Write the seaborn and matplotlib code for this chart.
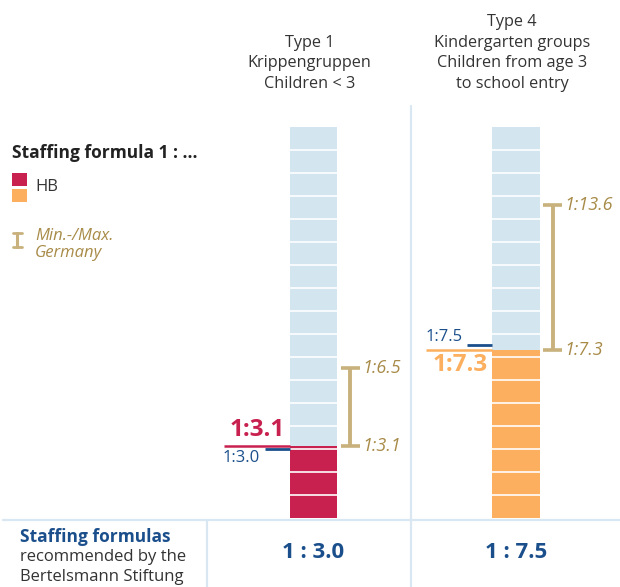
import matplotlib
matplotlib.use("Agg")
import matplotlib.pyplot as plt
import pandas as pd
import seaborn as sns

# ---- data -------------------------------------------------------------
groups = ["Type 1", "Type 4"]
headers = [
    ["Type 1", "Krippengruppen", "Children < 3"],
    ["Type 4", "Kindergarten groups", "Children from age 3", "to school entry"],
]
hb_ratio = [3.1, 7.3]           # HB staffing formula 1 : x
germany_min = [3.1, 7.3]        # lowest staffing formula in Germany
germany_max = [6.5, 13.6]       # highest staffing formula in Germany
recommended = [3.0, 7.5]        # Bertelsmann Stiftung recommendation
scale_max = [17, 17]            # height of the child scale behind each bar

# ---- style ------------------------------------------------------------
LIGHT_BLUE = "#d3e5ef"
RED = "#c8214f"
ORANGE = "#fbaf5f"
GOLD = "#c8b17c"
GOLD_TEXT = "#a88b48"
DARK_BLUE = "#1b4f8c"
TEXT = "#333333"
RULE = "#d8e7f1"
bar_colors = [RED, ORANGE]

sns.set_theme(style="white")
plt.rcParams["font.family"] = ["Open Sans", "DejaVu Sans"]

W, H = 620, 587
fig = plt.figure(figsize=(W / 100, H / 100), dpi=100)
ax = fig.add_axes([0, 0, 1, 1])

# pixel geometry of the plotting grid
PX_X = 202.5          # pixels between the two bar centres
PX_Y = 23.0           # pixels per child
X0 = 313.5            # pixel x of the first bar centre
Y0 = 517.5            # pixel y (from top) of the bar base
BAR_W = 47.5 / PX_X


def fx(px):
    return px / W


def fy(py):
    return 1 - py / H


df = pd.DataFrame({"group": groups, "hb": hb_ratio, "scale": scale_max})

# background scale and HB bars
sns.barplot(df, x="group", y="scale", color=LIGHT_BLUE, width=BAR_W,
            linewidth=0, saturation=1, errorbar=None, ax=ax)
sns.barplot(df, x="group", y="hb", hue="group", palette=bar_colors,
            width=BAR_W, linewidth=0, saturation=1, errorbar=None,
            legend=False, ax=ax)

ax.set_xlim(-X0 / PX_X, (W - X0) / PX_X)
ax.set_ylim(-(H - Y0) / PX_Y, Y0 / PX_Y)
ax.set_axis_off()

px_x = 1 / PX_X   # one pixel in x data units
px_y = 1 / PX_Y   # one pixel in y data units


def ypix(py):
    """Data y for a pixel row counted from the top of the figure."""
    return (Y0 - py) * px_y


for i, g in enumerate(groups):
    left, right = i - BAR_W / 2, i + BAR_W / 2
    # white divisions, one per child
    ax.hlines(range(1, scale_max[i]), left, right, color="white", lw=1.2,
              zorder=3)

    # min / max range in Germany
    xb = i + 36.5 * px_x
    cap = 9.5 * px_x
    ax.vlines(xb, germany_min[i], germany_max[i], color=GOLD, lw=2.8,
              zorder=3)
    ax.hlines([germany_min[i], germany_max[i]], xb - cap, xb + cap,
              color=GOLD, lw=2.6, zorder=3)
    for v in (germany_min[i], germany_max[i]):
        ax.text(xb + 12 * px_x, v, f"1:{v:.1f}", color=GOLD_TEXT,
                fontsize=13, style="italic", va="center", ha="left")

    # HB marker line and recommendation marker line
    hb_col = bar_colors[i]
    ax.hlines(hb_ratio[i], left - 66 * px_x, left, color=hb_col, lw=1.8,
              zorder=4)
    ax.hlines(recommended[i], left - 25 * px_x, left, color=DARK_BLUE,
              lw=2.0, zorder=4)

    hb_above = hb_ratio[i] >= recommended[i]
    hb_off = 16 if hb_above else -15
    ax.text(left - 5 * px_x, hb_ratio[i] + hb_off * px_y,
            f"1:{hb_ratio[i]:.1f}", color=hb_col, fontsize=17.5,
            fontweight="bold", ha="right", va="center")
    rec_off = -9 if hb_above else 8
    ax.text(left - 30 * px_x, recommended[i] + rec_off * px_y,
            f"1:{recommended[i]:.1f}", color=DARK_BLUE, fontsize=12,
            ha="right", va="center")

    # column header
    for k, line in enumerate(reversed(headers[i])):
        ax.text(i - 4 * px_x, ypix(84 - 20.7 * k), line, color=TEXT,
                fontsize=11.7, ha="center", va="center")

    # recommended staffing formula in the table row
    ax.text(i, ypix(552), f"1 : {recommended[i]:.1f}",
            color=DARK_BLUE, fontsize=16, fontweight="bold",
            ha="center", va="center")

# separators
fig.add_artist(plt.Line2D([fx(3), fx(W)], [fy(519.5), fy(519.5)],
                          color=RULE, lw=1.6))
fig.add_artist(plt.Line2D([fx(207), fx(207)], [fy(519.5), fy(H)],
                          color=RULE, lw=1.6))
fig.add_artist(plt.Line2D([fx(410.5), fx(410.5)], [fy(106), fy(H)],
                          color=RULE, lw=1.6))

# legend
fig.text(fx(12), fy(153), "Staffing formula 1 : ...", color="#222222",
         fontsize=12.5, fontweight="bold", va="center", ha="left")
fig.add_artist(plt.Rectangle((fx(12), fy(186)), fx(14.5), 13 / H,
                             color=RED, lw=0))
fig.add_artist(plt.Rectangle((fx(12), fy(202)), fx(14.5), 13 / H,
                             color=ORANGE, lw=0))
fig.text(fx(35), fy(187), "HB", color=TEXT, fontsize=12,
         va="center", ha="left")
fig.add_artist(plt.Line2D([fx(17), fx(17)], [fy(233), fy(247)],
                          color=GOLD, lw=2.2))
for yy in (233, 247):
    fig.add_artist(plt.Line2D([fx(12.5), fx(21.5)], [fy(yy), fy(yy)],
                              color=GOLD, lw=2.0))
fig.text(fx(35), fy(236), "Min.-/Max.", color=GOLD_TEXT, fontsize=12,
         style="italic", va="center", ha="left")
fig.text(fx(35), fy(253), "Germany", color=GOLD_TEXT, fontsize=12,
         style="italic", va="center", ha="left")

# table row label
fig.text(fx(20), fy(537), "Staffing formulas", color=DARK_BLUE,
         fontsize=12.5, fontweight="bold", va="center", ha="left")
fig.text(fx(20), fy(557), "recommended by the", color=TEXT,
         fontsize=12, va="center", ha="left")
fig.text(fx(20), fy(577), "Bertelsmann Stiftung", color=TEXT,
         fontsize=12, va="center", ha="left")

fig.savefig("out.png", dpi=100)
